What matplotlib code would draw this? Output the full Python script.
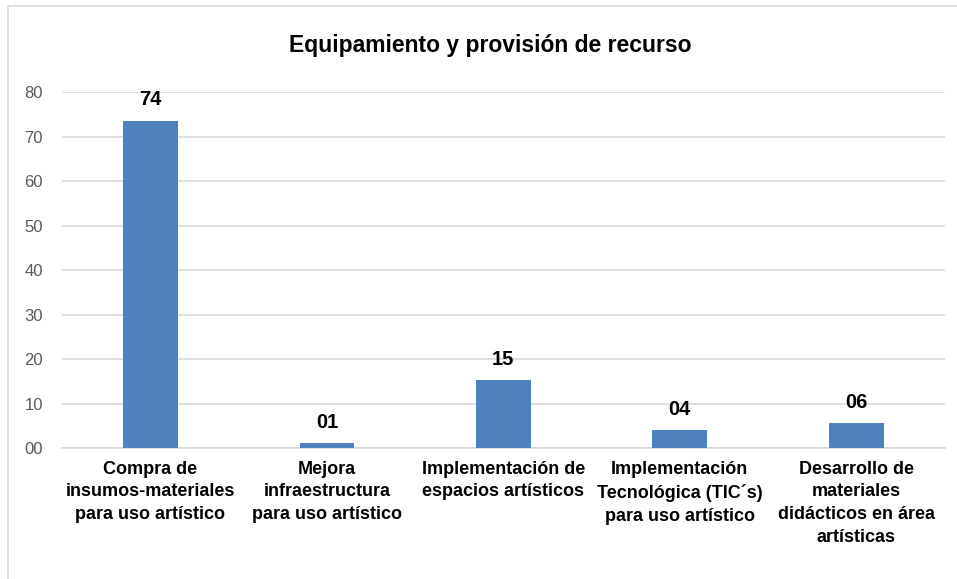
import matplotlib
matplotlib.use("Agg")
import matplotlib.pyplot as plt
from matplotlib.patches import Rectangle

categories = [
    "Compra de\ninsumos-materiales\npara uso artístico",
    "Mejora\ninfraestructura\npara uso artístico",
    "Implementación de\nespacios artísticos",
    "Implementación\nTecnológica (TIC´s)\npara uso artístico",
    "Desarrollo de\nmateriales\ndidácticos en área\nartísticas",
]
values = [73.6, 1.2, 15.2, 4.1, 5.6]
value_labels = ["74", "01", "15", "04", "06"]
yticks = [0, 10, 20, 30, 40, 50, 60, 70, 80]
ytick_labels = ["00", "10", "20", "30", "40", "50", "60", "70", "80"]
title = "Equipamiento y provisión de recurso"

plt.rcParams['font.family'] = ["Liberation Sans", 'DejaVu Sans']

fig = plt.figure(figsize=(9.57, 5.79), dpi=100)
ax = fig.add_axes([0.065, 0.226, 0.922, 0.615])

x = list(range(len(categories)))
bars = ax.bar(x, values, width=0.31, color="#4F81BD", zorder=3)
for b, lab in zip(bars, value_labels):
    ax.annotate(lab, (b.get_x() + b.get_width() / 2, b.get_height()),
                xytext=(0, 8), textcoords="offset points", ha="center", va="bottom",
                fontsize=14.5, fontweight="bold", color="black")

ax.set_xlim(-0.5, len(categories) - 0.5)
ax.set_ylim(0, 80)
ax.set_yticks(yticks)
ax.set_yticklabels(ytick_labels, fontsize=12, color="#595959")
ax.set_xticks(x)
ax.set_xticklabels(categories, fontsize=13, fontweight="bold", color="black", linespacing=1.45)
ax.tick_params(axis="both", length=0)
ax.tick_params(axis="y", pad=14)
ax.tick_params(axis="x", pad=9)
ax.yaxis.grid(True, color="#D9D9D9", linewidth=1.2, zorder=0)
for s in ["top", "right", "left"]:
    ax.spines[s].set_visible(False)
ax.spines["bottom"].set_color("#D9D9D9")
ax.spines["bottom"].set_linewidth(1.2)

fig.text(0.512, 0.922, title, ha="center", va="center", fontsize=16.5, fontweight="bold", color="black")

fig.add_artist(Rectangle((8 / 957, -0.1), 1.2, 1.1 - 6 / 579, transform=fig.transFigure,
                         fill=False, edgecolor="#D9D9D9", linewidth=1.2))

fig.savefig("out.png", dpi=100)
